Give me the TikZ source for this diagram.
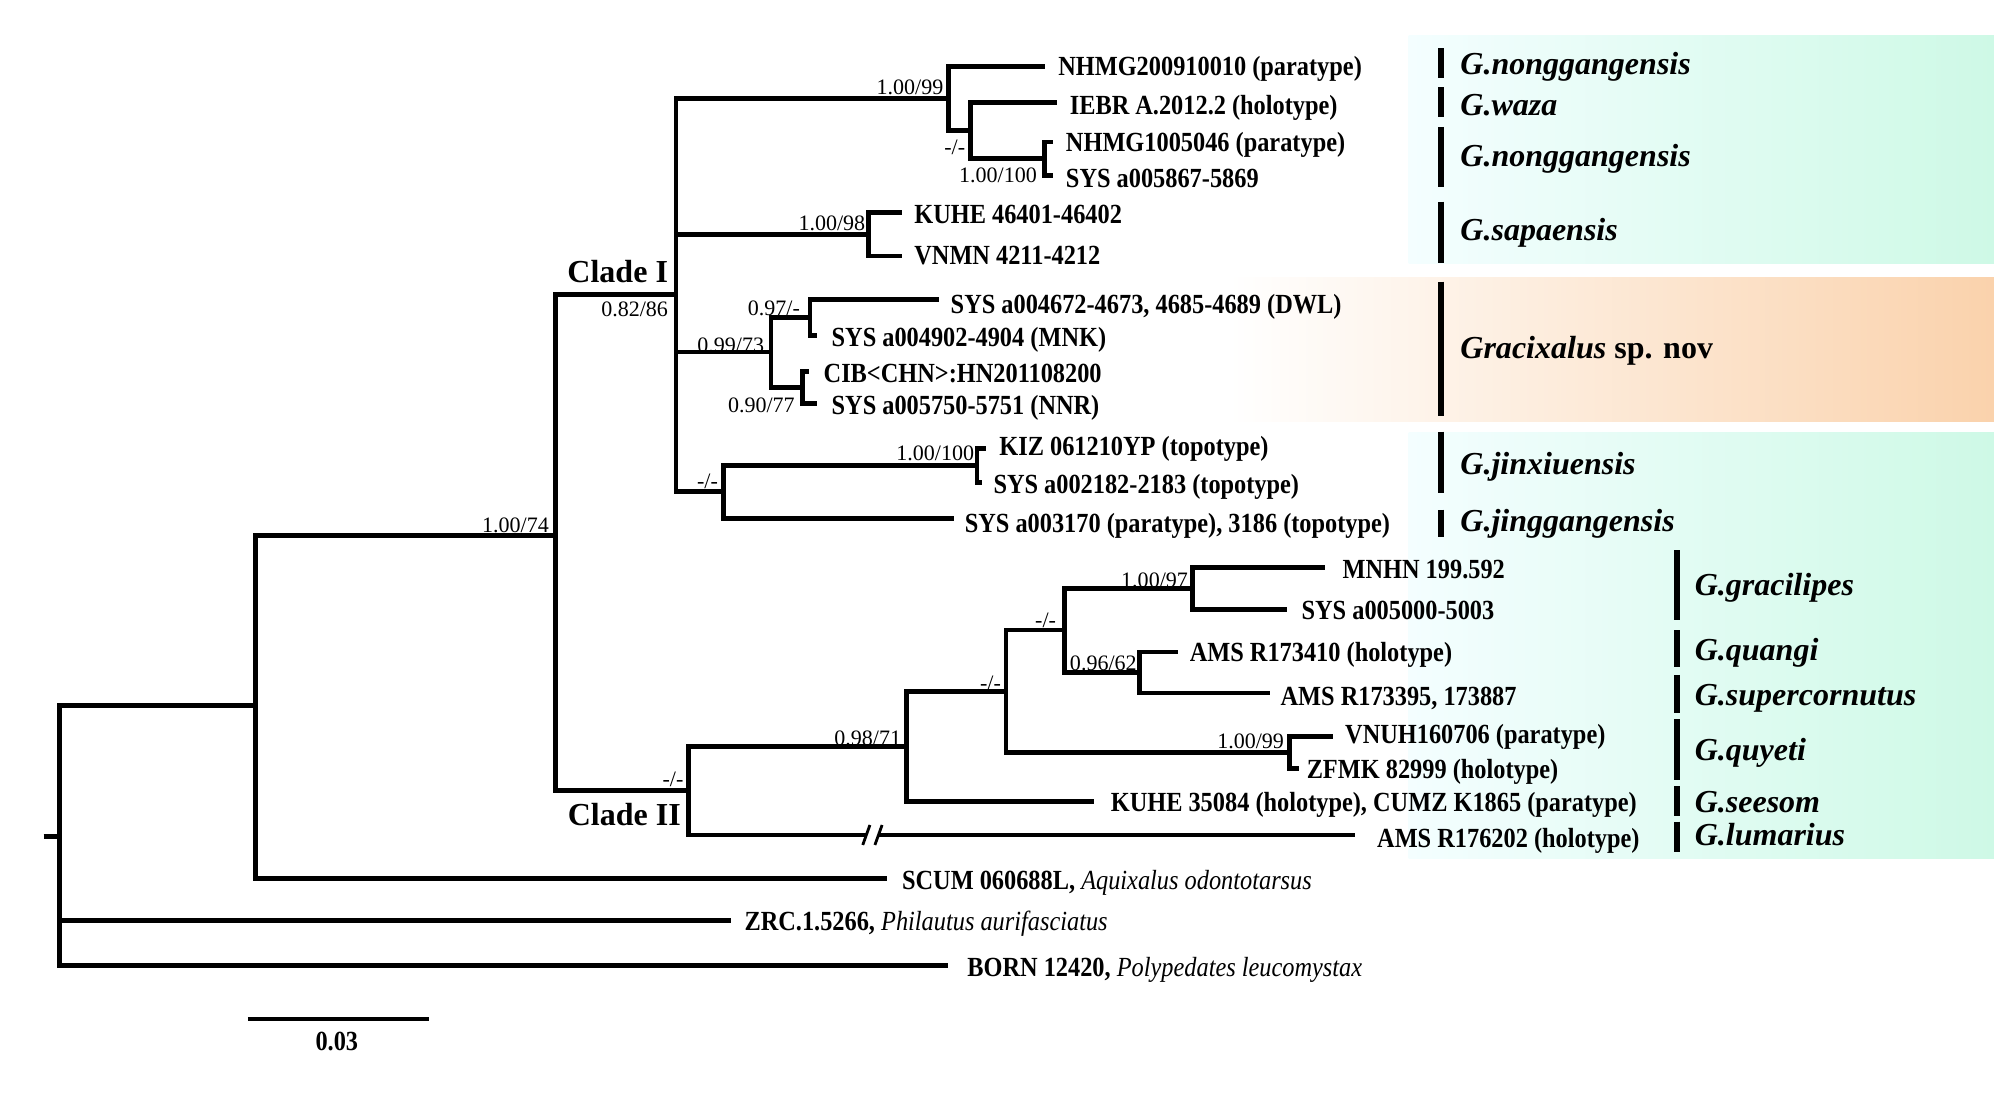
\documentclass[tikz,border=0pt]{standalone}
\usepackage{fontspec}
\setmainfont{Liberation Serif}
\newfontfamily\tipfont{Liberation Serif}[FakeStretch=0.88]
\definecolor{mintR}{RGB}{206,249,230}
\definecolor{mintL}{RGB}{244,254,255}
\definecolor{peach}{RGB}{250,210,172}
\definecolor{cream}{RGB}{255,243,222}
\begin{document}
\begin{tikzpicture}[x=0.5pt,y=-0.5pt,
  br/.style={line width=1.8pt},
  bar/.style={line width=2.4pt},
  brk/.style={line width=1.1pt},
  tip/.style={font=\tipfont\bfseries\fontsize{10.8pt}{12pt}\selectfont, anchor=base west, inner sep=0pt, yshift=-3.8pt},
  sup/.style={font=\fontsize{8.6pt}{10pt}\selectfont, anchor=base east, inner sep=0pt, yshift=-2.9pt},
  spp/.style={font=\bfseries\itshape\fontsize{12.5pt}{14pt}\selectfont, anchor=base west, inner sep=0pt, yshift=-4.15pt},
  clade/.style={font=\bfseries\fontsize{12.5pt}{14pt}\selectfont, anchor=base east, inner sep=0pt, yshift=-4.15pt},
]
\useasboundingbox (0,0) rectangle (1568,861);
% background bands
\fill[left color=mintL, right color=mintR] (1100,28) rectangle (1557,206);
\fill[left color=white, middle color=cream, right color=peach] (960,217) rectangle (1557,329);
\fill[left color=mintL, right color=mintR] (1100,338) rectangle (1557,670);

% internal nodes
\coordinate (rs) at (34,653);
\coordinate (R) at (46.4,653);
\coordinate (A) at (199.4,551);
\coordinate (B) at (434,418);
\coordinate (C) at (528,230);
\coordinate (D) at (537.6,617.5);
\coordinate (E) at (740.5,77);
\coordinate (E2) at (758,102);
\coordinate (E3) at (815.7,124);
\coordinate (F) at (678,183);
\coordinate (G) at (602,275);
\coordinate (G1) at (632.5,248);
\coordinate (G2) at (626.5,302.5);
\coordinate (H) at (565,384);
\coordinate (H1) at (763,363.5);
\coordinate (I) at (708,583);
\coordinate (J) at (785.6,540);
\coordinate (K) at (831,492);
\coordinate (L) at (931,459.5);
\coordinate (M) at (889.6,525);
\coordinate (N) at (1007,587.5);
% tips
\coordinate (t1) at (816,52);
\coordinate (t2) at (825,80);
\coordinate (t3) at (822,111);
\coordinate (t4) at (822,137);
\coordinate (t5) at (704,166);
\coordinate (t6) at (704,200);
\coordinate (t7) at (733,234);
\coordinate (t8) at (638,262);
\coordinate (t9) at (632,290);
\coordinate (t10) at (638,315);
\coordinate (t11) at (770,350);
\coordinate (t12) at (767,377);
\coordinate (t13) at (745,405);
\coordinate (t14) at (1035,443);
\coordinate (t15) at (1005,476);
\coordinate (t16) at (920,509);
\coordinate (t17) at (992,541);
\coordinate (t18) at (1041,575);
\coordinate (t19) at (1014,600);
\coordinate (t20) at (854,626);
\coordinate (t21) at (1058,652);
\coordinate (t22) at (693,686);
\coordinate (t23) at (571,719);
\coordinate (t24) at (740,754);
\coordinate (brk1) at (676.5,652);
\coordinate (brk2) at (686,652);

% branches
\draw[br] (rs) -- (R);
\draw[br] (R) |- (A);  \draw[br] (R) |- (t23); \draw[br] (R) |- (t24);
\draw[br] (A) |- (B);  \draw[br] (A) |- (t22);
\draw[br] (B) |- (C);  \draw[br] (B) |- (D);
\draw[br] (C) |- (E);  \draw[br] (C) |- (F); \draw[br] (C) |- (G); \draw[br] (C) |- (H);
\draw[br] (E) |- (t1); \draw[br] (E) |- (E2);
\draw[br] (E2) |- (t2); \draw[br] (E2) |- (E3);
\draw[br] (E3) |- (t3); \draw[br] (E3) |- (t4);
\draw[br] (F) |- (t5); \draw[br] (F) |- (t6);
\draw[br] (G) |- (G1); \draw[br] (G) |- (G2);
\draw[br] (G1) |- (t7); \draw[br] (G1) |- (t8);
\draw[br] (G2) |- (t9); \draw[br] (G2) |- (t10);
\draw[br] (H) |- (H1); \draw[br] (H) |- (t13);
\draw[br] (H1) |- (t11); \draw[br] (H1) |- (t12);
\draw[br] (D) |- (I); \draw[br] (D) |- (brk1); \draw[br] (brk2) -- (t21);
\draw[brk] (brk1) ++(-2.8,7.8) -- ++(5.6,-15.6);
\draw[brk] (brk2) ++(-2.8,7.8) -- ++(5.6,-15.6);
\draw[br] (I) |- (J); \draw[br] (I) |- (t20);
\draw[br] (J) |- (K); \draw[br] (J) |- (N);
\draw[br] (K) |- (L); \draw[br] (K) |- (M);
\draw[br] (L) |- (t14); \draw[br] (L) |- (t15);
\draw[br] (M) |- (t16); \draw[br] (M) |- (t17);
\draw[br] (N) |- (t18); \draw[br] (N) |- (t19);

% tip labels
\node[tip] (l1) at (826,51) {NHMG200910010 (paratype)};
\node[tip] (l2) at (835,82) {IEBR A.2012.2 (holotype)};
\node[tip] (l3) at (832,111) {NHMG1005046 (paratype)};
\node[tip] (l4) at (832,139) {SYS a005867-5869};
\node[tip] (l5) at (713.6,167) {KUHE 46401-46402};
\node[tip] (l6) at (713.6,199) {VNMN 4211-4212};
\node[tip] (l7) at (742,237) {SYS a004672-4673, 4685-4689 (DWL)};
\node[tip] (l8) at (649,263) {SYS a004902-4904 (MNK)};
\node[tip] (l9) at (642.8,291) {CIB<CHN>:HN201108200};
\node[tip] (l10) at (649,316) {SYS a005750-5751 (NNR)};
\node[tip] (l11) at (780,348) {KIZ 061210YP (topotype)};
\node[tip] (l12) at (775.4,378) {SYS a002182-2183 (topotype)};
\node[tip] (l13) at (753,408) {SYS a003170 (paratype), 3186 (topotype)};
\node[tip] (l14) at (1048,444) {MNHN 199.592};
\node[tip] (l15) at (1016,476) {SYS a005000-5003};
\node[tip] (l16) at (928.7,509) {AMS R173410 (holotype)};
\node[tip] (l17) at (999.6,543) {AMS R173395, 173887};
\node[tip] (l18) at (1050,573) {VNUH160706 (paratype)};
\node[tip] (l19) at (1020,600) {ZFMK 82999 (holotype)};
\node[tip] (l20) at (867,626) {KUHE 35084 (holotype), CUMZ K1865 (paratype)};
\node[tip] (l21) at (1075,654) {AMS R176202 (holotype)};
\node[tip] (l22) at (704,687) {SCUM 060688L, {\mdseries\itshape Aquixalus odontotarsus}};
\node[tip] (l23) at (581,719) {ZRC.1.5266, {\mdseries\itshape Philautus aurifasciatus}};
\node[tip] (l24) at (755,755) {BORN 12420, {\mdseries\itshape Polypedates leucomystax}};

% support values
\node[sup] (s74) at (429,410) {1.00/74};
\node[sup] (s86) at (522,241) {0.82/86};
\node[sup] (s99a) at (737,68) {1.00/99};
\node[sup] (sE2) at (754,114.5) {-/-};
\node[sup] (s100a) at (810,136.7) {1.00/100};
\node[sup] (s98) at (676,174.4) {1.00/98};
\node[sup] (s97) at (625,240.6) {0.97/-};
\node[sup] (s73) at (597,269.4) {0.99/73};
\node[sup] (s77) at (621,316) {0.90/77};
\node[sup] (s100b) at (761,354) {1.00/100};
\node[sup] (sH) at (561,376) {-/-};
\node[sup] (sD) at (534,608) {-/-};
\node[sup] (s71) at (704,576) {0.98/71};
\node[sup] (sJ) at (782,533.5) {-/-};
\node[sup] (sK) at (825,484) {-/-};
\node[sup] (s97b) at (928,453) {1.00/97};
\node[sup] (s62) at (888,518) {0.96/62};
\node[sup] (s99b) at (1003,579) {1.00/99};

% clade labels
\node[clade] (c1) at (522,212) {Clade I};
\node[clade] (c2) at (532,636.6) {Clade II};

% species bars and names
\draw[bar] (1125,37.6) -- (1125,61);
\node[spp] (g1) at (1140,49.5) {G.nonggangensis};
\draw[bar] (1125,68) -- (1125,91.6);
\node[spp] (g2) at (1140,82) {G.waza};
\draw[bar] (1125,99) -- (1125,146);
\node[spp] (g3) at (1140,122) {G.nonggangensis};
\draw[bar] (1125,157.5) -- (1125,205);
\node[spp] (g4) at (1140,179.6) {G.sapaensis};
\draw[bar] (1125,220) -- (1125,325);
\node[spp] (g5) at (1140,272) {Gracixalus {\upshape sp. nov}};
\draw[bar] (1125,337) -- (1125,385);
\node[spp] (g6) at (1140,362) {G.jinxiuensis};
\draw[bar] (1125,398) -- (1125,419);
\node[spp] (g7) at (1140,407) {G.jinggangensis};
\draw[bar] (1309.5,429.5) -- (1309.5,484);
\node[spp] (g8) at (1323,457) {G.gracilipes};
\draw[bar] (1309.5,492) -- (1309.5,520.6);
\node[spp] (g9) at (1323,507.6) {G.quangi};
\draw[bar] (1309.5,527) -- (1309.5,556.5);
\node[spp] (g10) at (1323,542.7) {G.supercornutus};
\draw[bar] (1309.5,561.7) -- (1309.5,609);
\node[spp] (g11) at (1323,585.7) {G.quyeti};
\draw[bar] (1309.5,613.8) -- (1309.5,637);
\node[spp] (g12) at (1323,626) {G.seesom};
\draw[bar] (1309.5,641.6) -- (1309.5,665);
\node[spp] (g13) at (1323,652) {G.lumarius};

% scale bar
\coordinate (sb1) at (193.5,795.6);
\coordinate (sb2) at (334.7,795.6);
\draw[br] (sb1) -- (sb2);
\node[tip, anchor=base] (sbl) at (263,813) {0.03};
\end{tikzpicture}
\end{document}
